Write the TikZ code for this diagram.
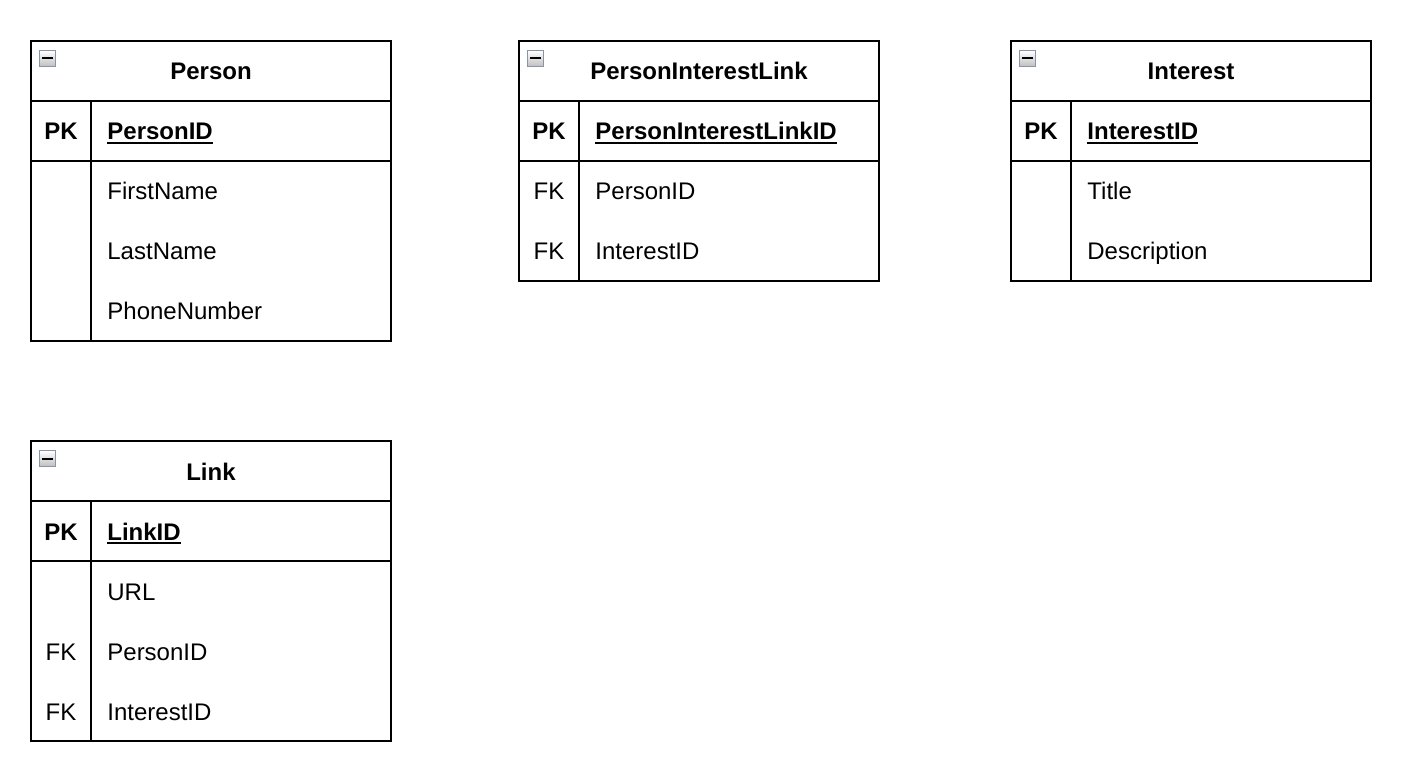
\documentclass[tikz,border=0pt]{standalone}
\usepackage{fontspec}
\setmainfont{Liberation Sans}
\usetikzlibrary{positioning}
\definecolor{iconframe}{RGB}{138,148,168}
\newcommand{\pkline}[1]{\setbox0\hbox{#1}\rlap{\rule[-2pt]{\wd0}{1pt}}\box0}

\begin{document}
\begin{tikzpicture}[x=0.5pt, y=-0.5pt]
\tikzstyle{tableframe}=[line width=1pt];
\tikzstyle{tabletitle}=[font=\bfseries\fontsize{12}{14}\selectfont, anchor=base, inner sep=0pt];
\tikzstyle{pkcol}=[font=\bfseries\fontsize{12}{14}\selectfont, anchor=base, inner sep=0pt];
\tikzstyle{fkcol}=[font=\fontsize{12}{14}\selectfont, anchor=base, inner sep=0pt];
\tikzstyle{pkfield}=[font=\bfseries\fontsize{12}{14}\selectfont, anchor=base west, inner sep=0pt];
\tikzstyle{fieldname}=[font=\fontsize{12}{14}\selectfont, anchor=base west, inner sep=0pt];
\tikzstyle{collapse}=[draw=iconframe, line width=0.6pt, top color=white, bottom color=black!25, minimum width=8pt, minimum height=8pt, inner sep=0pt];
\useasboundingbox (0,0) rectangle (1406,780);

% Person
\draw[tableframe] (31,41) rectangle (391,341);
\draw[tableframe] (31,101) -- (391,101);
\draw[tableframe] (31,161) -- (391,161);
\draw[tableframe] (91,101) -- (91,341);
\node[collapse] (personicon) at (47.5,58.5) {\rule{5.5pt}{1pt}};
\node[tabletitle] (person) at (211,80) {Person};
\node[pkcol] (personpk) at (61,140) {PK};
\node[pkfield] (personid) at (107,140) {\pkline{PersonID}};
\node[fieldname] (firstname) at (107,200) {FirstName};
\node[fieldname] (lastname) at (107,260) {LastName};
\node[fieldname] (phonenumber) at (107,320) {PhoneNumber};

% PersonInterestLink
\draw[tableframe] (519,41) rectangle (879,281);
\draw[tableframe] (519,101) -- (879,101);
\draw[tableframe] (519,161) -- (879,161);
\draw[tableframe] (579,101) -- (579,281);
\node[collapse] (pilicon) at (535.5,58.5) {\rule{5.5pt}{1pt}};
\node[tabletitle] (pil) at (699,80) {PersonInterestLink};
\node[pkcol] (pilpk) at (549,140) {PK};
\node[pkfield] (pilid) at (595,140) {\pkline{PersonInterestLinkID}};
\node[fkcol] (pilfk1) at (549,200) {FK};
\node[fieldname] (pilperson) at (595,200) {PersonID};
\node[fkcol] (pilfk2) at (549,260) {FK};
\node[fieldname] (pilinterest) at (595,260) {InterestID};

% Interest
\draw[tableframe] (1011,41) rectangle (1371,281);
\draw[tableframe] (1011,101) -- (1371,101);
\draw[tableframe] (1011,161) -- (1371,161);
\draw[tableframe] (1071,101) -- (1071,281);
\node[collapse] (interesticon) at (1027.5,58.5) {\rule{5.5pt}{1pt}};
\node[tabletitle] (interest) at (1191,80) {Interest};
\node[pkcol] (interestpk) at (1041,140) {PK};
\node[pkfield] (interestid) at (1087,140) {\pkline{InterestID}};
\node[fieldname] (title) at (1087,200) {Title};
\node[fieldname] (description) at (1087,260) {Description};

% Link
\draw[tableframe] (31,441) rectangle (391,741);
\draw[tableframe] (31,501) -- (391,501);
\draw[tableframe] (31,561) -- (391,561);
\draw[tableframe] (91,501) -- (91,741);
\node[collapse] (linkicon) at (47.5,458.5) {\rule{5.5pt}{1pt}};
\node[tabletitle] (link) at (211,480) {Link};
\node[pkcol] (linkpk) at (61,540) {PK};
\node[pkfield] (linkid) at (107,540) {\pkline{LinkID}};
\node[fieldname] (url) at (107,600) {URL};
\node[fkcol] (linkfk1) at (61,660) {FK};
\node[fieldname] (linkperson) at (107,660) {PersonID};
\node[fkcol] (linkfk2) at (61,720) {FK};
\node[fieldname] (linkinterest) at (107,720) {InterestID};
\end{tikzpicture}
\end{document}
